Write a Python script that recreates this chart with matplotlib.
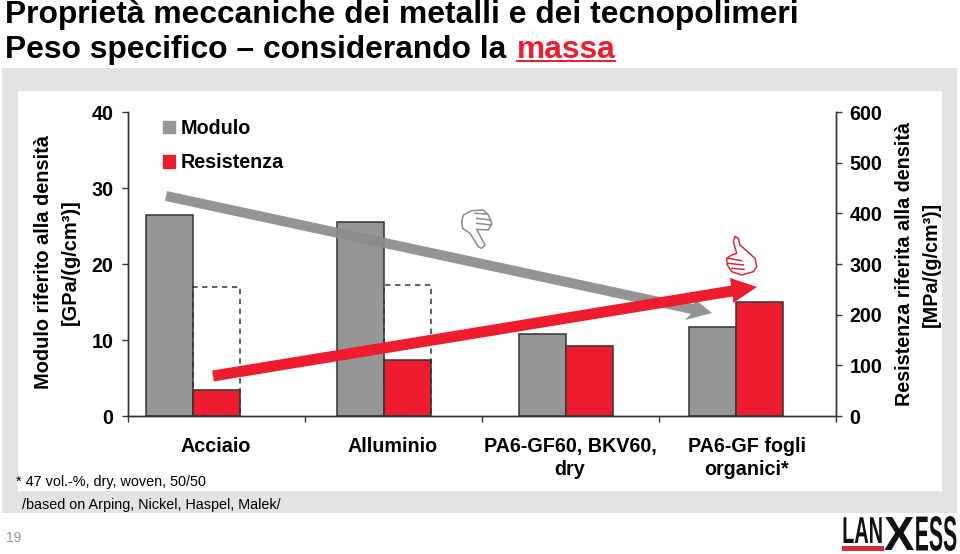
import matplotlib
matplotlib.use("Agg")
import matplotlib.pyplot as plt
from matplotlib.patches import Patch, Polygon, Rectangle
from matplotlib.patheffects import AbstractPathEffect
from matplotlib.transforms import Affine2D

plt.rcParams["font.family"] = ["Liberation Sans", "DejaVu Sans"]
plt.rcParams["font.weight"] = "bold"

# data
categories = ["Acciaio", "Alluminio", "PA6-GF60, BKV60,\ndry", "PA6-GF fogli\norganici*"]
bar_pos = [-0.13, 0.95, 1.977, 2.938]     # bars are shifted against their category
modulo = [26.4, 25.5, 10.8, 11.7]
resistenza = [51, 110, 138, 225]
dashed_pos = [-0.13, 0.95]
dashed_vals = [255, 258]
left_ticks = [0, 10, 20, 30, 40]
right_ticks = [0, 100, 200, 300, 400, 500, 600]

GREY = "#969696"
RED = "#ed1c2e"
DARK = "#333333"
BAND = "#e3e3e3"
W = 0.266


# squeezes a text sideways, the logo letters are condensed
class Squeeze(AbstractPathEffect):
    def __init__(self, sx, x0):
        super().__init__()
        self.sx = sx
        self.x0 = x0

    def draw_path(self, renderer, gc, tpath, affine, rgbFace=None):
        t = affine + Affine2D().translate(-self.x0, 0).scale(self.sx, 1).translate(self.x0, 0)
        renderer.draw_path(gc, tpath, t, rgbFace)


fig = plt.figure(figsize=(9.6, 5.54), dpi=100, facecolor="white")

# background panels, in pixels
bg = fig.add_axes([0, 0, 1, 1], zorder=0)
bg.set_xlim(0, 960)
bg.set_ylim(554, 0)
bg.axis("off")
bg.add_patch(Rectangle((2, 68), 955, 445, color=BAND, lw=0))
bg.add_patch(Rectangle((18, 91), 924, 400, color="white", lw=0))

# chart
ax = fig.add_axes([127.5 / 960, 1 - 416 / 554, 708 / 960, 304 / 554], zorder=2)
ax.patch.set_alpha(0)
ax2 = ax.twinx()
ax2.patch.set_alpha(0)

b1 = ax.bar([p - W / 2 for p in bar_pos], modulo, W, color=GREY, edgecolor=DARK, lw=1.1)
b2 = ax2.bar([p + W / 2 for p in bar_pos], resistenza, W, color=RED, edgecolor=DARK, lw=1.1)
ax2.bar([p + W / 2 for p in dashed_pos], dashed_vals, W, fill=False, edgecolor=DARK,
        lw=1.1, linestyle=(0, (3.5, 3)))

ax.set_xlim(-0.5, 3.5)
ax.set_ylim(0, 40)
ax2.set_ylim(0, 600)
ax.set_yticks(left_ticks)
ax2.set_yticks(right_ticks)
ax.set_xticks([-0.5, 0.5, 1.5, 2.5, 3.5])
ax.set_xticklabels([])
ax.set_xticks(range(len(categories)), categories, minor=True, fontsize=14.2, linespacing=1.3)
ax.tick_params(axis="x", which="minor", length=0, pad=15)
ax.tick_params(axis="x", which="major", length=4, color=DARK, width=1)
ax.tick_params(axis="y", length=4, color=DARK, width=1, labelsize=14.2, pad=6)
ax2.tick_params(axis="y", length=4, color=DARK, width=1, labelsize=14.2, pad=6)
for a in (ax, ax2):
    a.spines["top"].set_visible(False)
    for s in ("left", "right", "bottom"):
        a.spines[s].set_color(DARK)
        a.spines[s].set_linewidth(1)

ax.set_ylabel("Modulo riferito alla densità\n[GPa/(g/cm³)]", fontsize=14.4, fontweight="bold", linespacing=1.55)
ax.yaxis.set_label_coords((80 - 127.5) / 708, 0.505)
ax2.set_ylabel("Resistenza riferita alla densità\n[MPa/(g/cm³)]", fontsize=14.2, fontweight="bold",
               linespacing=1.55, rotation=90, va="bottom")
ax2.yaxis.set_label_coords((941 - 127.5) / 708, 0.5)

leg = ax.legend([Patch(color=GREY), Patch(color=RED)], ["Modulo", "Resistenza"],
                loc="upper left", bbox_to_anchor=(35.5 / 708, 1 - 7 / 304), frameon=False,
                prop={"size": 14.2, "weight": "bold"}, handlelength=0.6, handleheight=0.6,
                handletextpad=0.3, labelspacing=0.78, borderpad=0, borderaxespad=0)

# overlay in pixels: arrows, thumbs, header, footnotes, logo
fg = fig.add_axes([0, 0, 1, 1], zorder=5)
fg.set_xlim(0, 960)
fg.set_ylim(554, 0)
fg.axis("off")
fg.patch.set_alpha(0)


def arrow(start, shaft_end, barb1, tip, barb2, width, color, alpha=1.0):
    dx, dy = shaft_end[0] - start[0], shaft_end[1] - start[1]
    n = (dx ** 2 + dy ** 2) ** 0.5
    ox, oy = -dy / n * width / 2, dx / n * width / 2
    pts = [(start[0] - ox, start[1] - oy), (shaft_end[0] - ox, shaft_end[1] - oy), barb1, tip, barb2,
           (shaft_end[0] + ox, shaft_end[1] + oy), (start[0] + ox, start[1] + oy)]
    fg.add_patch(Polygon(pts, closed=True, color=color, lw=0, alpha=alpha))


arrow((166, 196), (692, 309), (697, 301), (712, 313), (685, 320), 10, "#8c8c8c", 0.93)
arrow((213, 376), (732, 291), (730, 278), (757, 287), (733, 303), 11, RED)


def zoomed(pts):
    return [420 + x / 3 for x, y in pts], [190 + y / 3 for x, y in pts]


down = [(125, 95), (130, 75), (155, 62), (190, 60), (205, 75), (215, 100), (205, 120), (170, 118),
        (195, 165), (185, 175), (175, 170), (150, 130), (128, 115), (125, 95)]
up = [(945, 140), (955, 145), (960, 165), (1005, 205), (1010, 230), (1000, 245), (965, 255), (935, 245),
      (922, 225), (920, 205), (935, 195), (950, 190), (940, 155), (945, 140)]
down_fingers = [[(165, 70), (200, 72)], [(170, 85), (212, 90)], [(170, 100), (215, 105)]]
up_fingers = [[(925, 205), (965, 212)], [(925, 220), (970, 225)], [(935, 235), (972, 238)]]
for line in [down] + down_fingers:
    fg.plot(*zoomed(line), color="#8a8a8a", lw=1.1, solid_joinstyle="round")
for line in [up] + up_fingers:
    fg.plot(*zoomed(line), color="#d8283a", lw=1.1, solid_joinstyle="round")
fg.set_xlim(0, 960)
fg.set_ylim(554, 0)

fg.text(5, 23, "Proprietà meccaniche dei metalli e dei tecnopolimeri", fontsize=22.9, va="baseline")
fg.text(5, 58, "Peso specifico – considerando la", fontsize=22.9, va="baseline")
fg.text(517, 58, "massa", fontsize=22.9, va="baseline", color=RED)
fg.plot([517, 615], [61, 61], color=RED, lw=1.4)

fg.text(16, 486, "* 47 vol.-%, dry, woven, 50/50", fontsize=10.4, weight="normal", va="baseline")
fg.text(22, 509, "/based on Arping, Nickel, Haspel, Malek/", fontsize=10.4, weight="normal", va="baseline")
fg.text(6, 542, "19", fontsize=10, weight="normal", color="#999999", va="baseline")

fg.text(883, 543, "LAN", fontsize=27, va="baseline", ha="right", color="#111111",
        path_effects=[Squeeze(0.53, 883)])
fg.text(884, 550, "X", fontsize=34.5, va="baseline", color="#111111",
        path_effects=[Squeeze(0.95, 884)])
fg.text(957, 550.5, "ESS", fontsize=35.5, va="baseline", ha="right", color="#111111",
        path_effects=[Squeeze(0.43, 957)])
fg.add_patch(Rectangle((842, 546), 42, 5, color="#d8283a", lw=0))

fig.savefig("out.png", dpi=100)
